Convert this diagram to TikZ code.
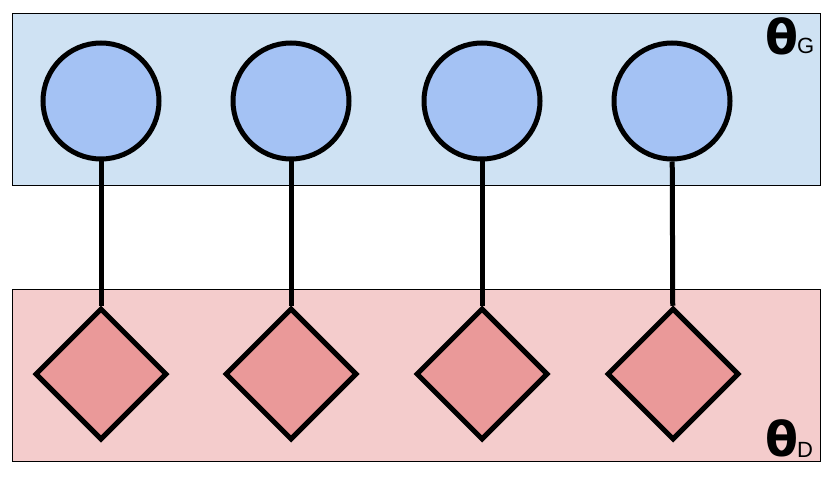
\documentclass[tikz,border=0pt]{standalone}
\usepackage{fontspec}
\setmainfont{Liberation Sans}
\newfontfamily\thetafont{DejaVu Sans}
\usetikzlibrary{shapes.geometric}
\definecolor{genback}{HTML}{CFE2F3}
\definecolor{genfill}{HTML}{A4C2F4}
\definecolor{disback}{HTML}{F4CCCC}
\definecolor{disfill}{HTML}{EA9999}
\begin{document}
\begin{tikzpicture}[x=1pt, y=-1pt,
    gen/.style={circle, draw, line width=5pt, fill=genfill, minimum size=116pt, inner sep=0pt},
    dis/.style={diamond, draw, line width=5pt, fill=disfill, minimum width=132pt, minimum height=132pt, inner sep=0pt},
    link/.style={line width=5pt},
    theta/.style={font=\thetafont\fontsize{48}{48}\selectfont\bfseries, anchor=base east, inner sep=0pt},
    sub/.style={font=\fontsize{22}{22}\selectfont, anchor=base west, inner sep=0pt}]
        \useasboundingbox (0,0) rectangle (830,484);
        % Boxes
        \node[draw, fill=genback, line width=0.8pt, minimum width=808pt, minimum height=172pt, inner sep=0pt] (G) at (416, 99) {};
        \node[draw, fill=disback, line width=0.8pt, minimum width=808pt, minimum height=172pt, inner sep=0pt] (D) at (416, 375) {};
        \node[theta] (tG) at (799, 55) {θ};
        \node[sub] (sG) at (797, 54) {G};
        \node[theta] (tD) at (799, 456) {θ};
        \node[sub] (sD) at (797, 457) {D};

        % Nodes
        \node[gen] (g1) at (101, 101) {};
        \node[gen] (g2) at (291, 101) {};
        \node[gen] (g3) at (482, 101) {};
        \node[gen] (g4) at (672, 101) {};
        \node[dis] (d1) at (101, 374) {};
        \node[dis] (d2) at (291, 374) {};
        \node[dis] (d3) at (482, 374) {};
        \node[dis] (d4) at (673, 374) {};

        % Edges
        \draw[link] (g1) -- (d1);
        \draw[link] (g2) -- (d2);
        \draw[link] (g3) -- (d3);
        \draw[link] (g4) -- (d4);
    \end{tikzpicture}
\end{document}
